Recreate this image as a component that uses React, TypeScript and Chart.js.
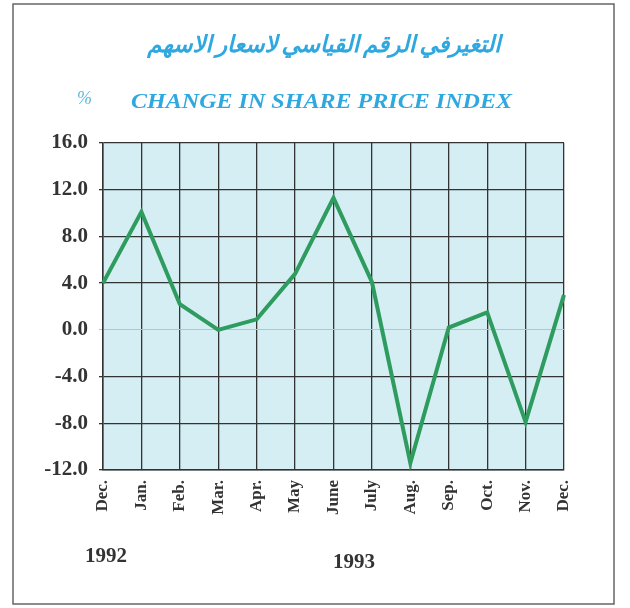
import React, { useEffect, useRef } from "react";
import { Chart, registerables } from "chart.js";

Chart.register(...registerables);

const months = ["Dec.", "Jan.", "Feb.", "Mar.", "Apr.", "May", "June", "July", "Aug.", "Sep.", "Oct.", "Nov.", "Dec."];
const changePct = [4.0, 10.1, 2.2, 0.0, 0.9, 4.8, 11.3, 4.1, -11.4, 0.2, 1.5, -7.9, 3.0];
const yearLabels = ["1992", "1993"];
const arabicTitle = "التغيرفي الرقم القياسي لاسعار الاسهم";
const englishTitle = "CHANGE IN SHARE PRICE INDEX";
const unitLabel = "%";

const SERIF = "'Liberation Serif', 'DejaVu Serif', serif";

export default function App() {
  const ref = useRef<HTMLCanvasElement | null>(null);

  useEffect(() => {
    if (!ref.current) return;
    const bgPlugin = {
      id: "plotBg",
      beforeDraw(chart: any) {
        const { ctx, chartArea: a } = chart;
        ctx.save();
        ctx.fillStyle = "#fff";
        ctx.fillRect(0, 0, chart.width, chart.height);
        ctx.fillStyle = "#d5eef3";
        ctx.fillRect(a.left, a.top, a.right - a.left, a.bottom - a.top);
        ctx.restore();
      },
      afterDraw(chart: any) {
        const { ctx } = chart;
        ctx.save();
        // frame
        ctx.strokeStyle = "#666";
        ctx.lineWidth = 1.5;
        ctx.strokeRect(13, 4, 601, 600);
        // Arabic title
        ctx.fillStyle = "#2fa8df";
        ctx.textAlign = "center";
        ctx.textBaseline = "middle";
        ctx.direction = "rtl";
        ctx.font = "italic bold 23px 'DejaVu Sans', sans-serif";
        (ctx as any).wordSpacing = "-4px";
        ctx.fillText(arabicTitle, 324, 46);
        (ctx as any).wordSpacing = "0px";
        ctx.direction = "ltr";
        // English title (widened to the original's span)
        ctx.save();
        ctx.font = `italic bold 20px ${SERIF}`;
        ctx.textAlign = "left";
        const w = ctx.measureText(englishTitle).width;
        ctx.translate(131, 103);
        ctx.scale(381 / w, 1);
        ctx.fillText(englishTitle, 0, 0);
        ctx.restore();
        ctx.fillStyle = "#5bb8e0";
        ctx.font = `italic 18px ${SERIF}`;
        ctx.textAlign = "left";
        ctx.fillText(unitLabel, 77, 99);
        // years
        ctx.fillStyle = "#333";
        ctx.font = `bold 21px ${SERIF}`;
        ctx.fillText(yearLabels[0], 85, 557);
        ctx.fillText(yearLabels[1], 333, 563);
        ctx.restore();
      },
    };

    const chart = new Chart(ref.current, {
      type: "line",
      data: {
        labels: months,
        datasets: [
          {
            data: changePct,
            borderColor: "#2e9c5e",
            borderWidth: 4,
            pointRadius: 0,
            tension: 0,
            fill: false,
          },
        ],
      },
      options: {
        responsive: false,
        animation: false,
        layout: { padding: { top: 143, right: 66, left: 0, bottom: 0 } },
        plugins: { legend: { display: false }, tooltip: { enabled: false }, title: { display: false } },
        scales: {
          x: {
            type: "category",
            offset: false,
            grid: { color: "#333", lineWidth: 1.3, tickLength: 0, drawTicks: false },
            border: { color: "#333", width: 1.5 },
            ticks: {
              autoSkip: false,
              minRotation: 90,
              maxRotation: 90,
              padding: 10,
              color: "#333",
              font: { family: SERIF, size: 17, weight: "bold" },
            },
            afterFit(scale: any) {
              scale.height = 138;
            },
          },
          y: {
            min: -12,
            max: 16,
            grid: {
              color: (c: any) => (c.tick && c.tick.value === 0 ? "#a9c9d2" : "#333"),
              lineWidth: (c: any) => (c.tick && c.tick.value === 0 ? 1 : 1.3),
              tickLength: 4,
            },
            border: { color: "#333", width: 1.5 },
            ticks: {
              stepSize: 4,
              padding: 11,
              color: "#333",
              font: { family: SERIF, size: 21, weight: "bold" },
              callback: (v: any) => Number(v).toFixed(1),
            },
            afterFit(scale: any) {
              scale.width = 103;
            },
          },
        },
      },
      plugins: [bgPlugin],
    });
    return () => chart.destroy();
  }, []);

  return (
    <div style={{ position: "fixed", left: 0, top: 0, width: 630, height: 608, background: "#fff" }}>
      <canvas ref={ref} width={630} height={608} style={{ width: 630, height: 608, display: "block" }} />
    </div>
  );
}
